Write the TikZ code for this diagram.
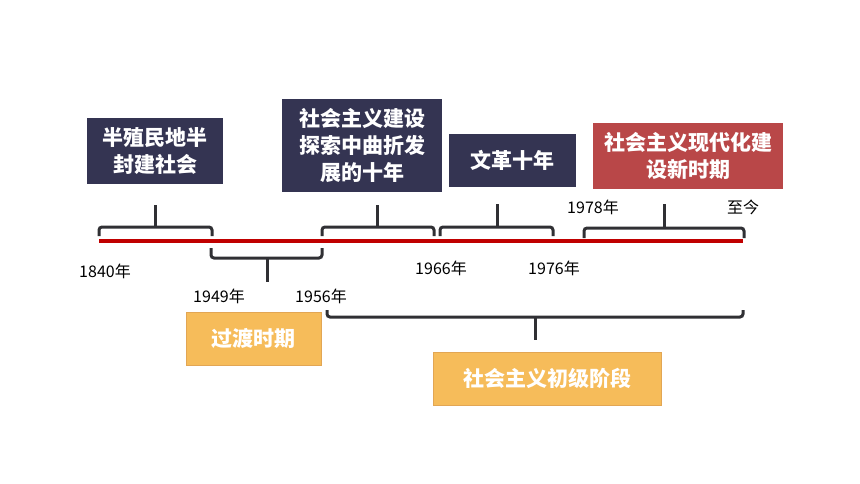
\documentclass[tikz,border=0pt]{standalone}
\usepackage{fontspec}
\usepackage{tikz}
\usetikzlibrary{positioning, calc}
\newfontfamily\cjk{Noto Sans CJK SC}
\definecolor{navybox}{RGB}{52, 52, 82}
\definecolor{redbox}{RGB}{185, 71, 72}
\definecolor{orangebox}{RGB}{246, 188, 90}
\definecolor{orangeedge}{RGB}{226, 166, 84}
\definecolor{lineRed}{RGB}{192, 0, 0}
\definecolor{braceGray}{RGB}{48, 48, 52}

\begin{document}
\begin{tikzpicture}[
  x=1pt, y=-1pt,
  period/.style={fill=#1, text=white, inner sep=0pt, align=center,
    font=\cjk\bfseries\fontsize{21}{27}\selectfont},
  stage/.style={fill=orangebox, draw=orangeedge, line width=1pt, text=white, inner sep=0pt,
    minimum height=53, font=\cjk\bfseries\fontsize{21}{27}\selectfont},
  year/.style={font=\cjk\fontsize{16}{18}\selectfont, inner sep=0pt},
  brace/.style={draw=braceGray, line width=3pt, rounded corners=3pt},
  stem/.style={draw=braceGray, line width=3pt},
]
  \useasboundingbox (0,0) rectangle (860,484);

  % boxes above the timeline
  \node[period=navybox, minimum width=136, minimum height=66] (semi) at (155,151) {半殖民地半\\封建社会};
  \node[period=navybox, minimum width=160, minimum height=93] (explore) at (362,145.5) {社会主义建设\\探索中曲折发\\展的十年};
  \node[period=navybox, minimum width=127, minimum height=53] (wenge) at (512.5,160.5) {文革十年};
  \node[period=redbox, minimum width=190, minimum height=66] (modern) at (688,156) {社会主义现代化建\\设新时期};

  % timeline
  \coordinate (start) at (99,241);
  \coordinate (now) at (743,241);
  \draw[lineRed, line width=4pt] (start) -- (now);

  % braces above
  \draw[brace] (99,236) -- (99,227) -- (212,227) -- (212,236);
  \draw[stem] (semi.south) ++(0,21) -- ++(0,22);
  \draw[brace] (322,236) -- (322,227) -- (434,227) -- (434,236);
  \draw[stem] (explore.south) ++(15,13) -- ++(0,22);
  \draw[brace] (440,236) -- (440,227) -- (553,227) -- (553,236);
  \draw[stem] (wenge.south) ++(-15.5,17) -- ++(0,22);
  \draw[brace] (584,238) -- (584,228) -- (744,228) -- (744,238);
  \draw[stem] (modern.south) ++(-24,15) -- ++(0,23);

  % years
  \node[year] (y1840) at (105,271) {1840年};
  \node[year] (y1949) at (219,296) {1949年};
  \node[year] (y1956) at (321,296) {1956年};
  \node[year] (y1966) at (441,268) {1966年};
  \node[year] (y1976) at (554,268) {1976年};
  \node[year] (y1978) at (593,207) {1978年};
  \node[year] (ynow) at (743,207) {至今};

  % stages below
  \node[stage, minimum width=135] (transit) at (253.5,338.5) {过渡时期};
  \node[stage, minimum width=228] (primary) at (547,378.5) {社会主义初级阶段};

  \draw[brace] (211,248) -- (211,258) -- (322,258) -- (322,248);
  \draw[stem] (transit.north) ++(13.5,-30) -- ++(0,-24);
  \draw[brace] (327,310) -- (327,317) -- (743,317) -- (743,310);
  \draw[stem] (primary.north) ++(-12,-12) -- ++(0,-23);
\end{tikzpicture}
\end{document}
